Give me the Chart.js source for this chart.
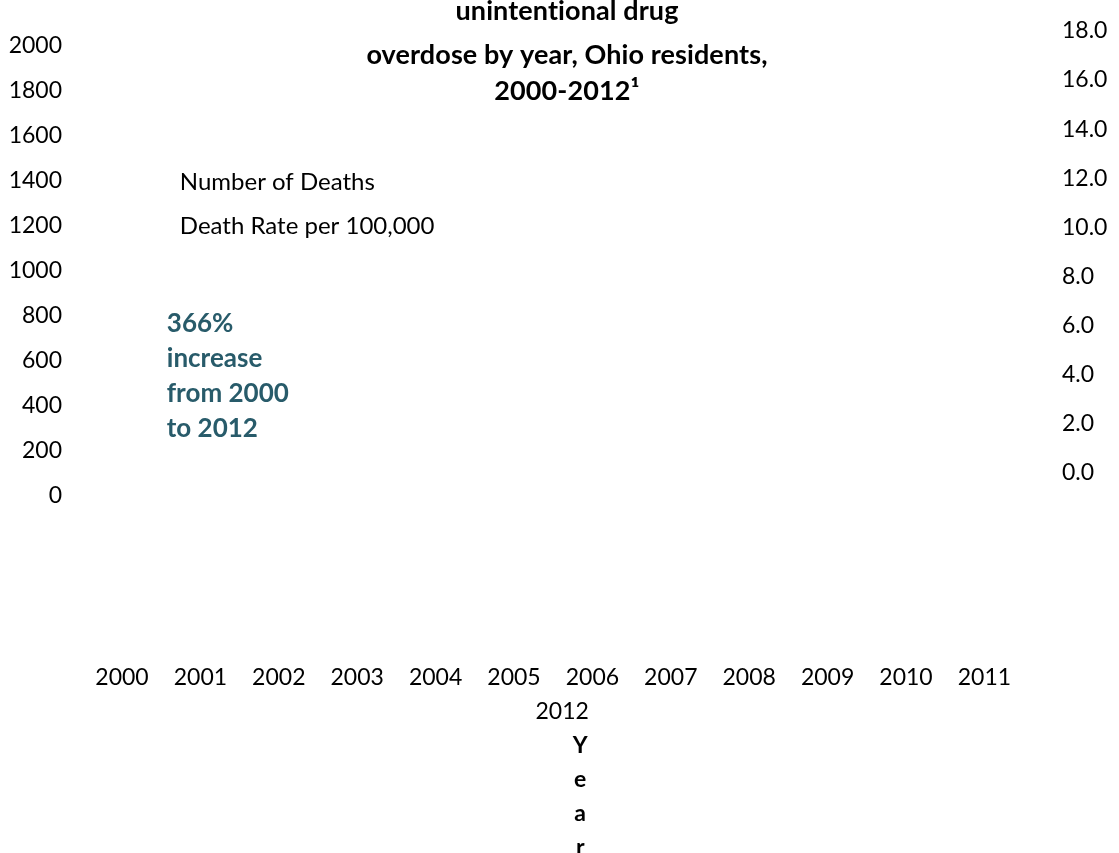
<!DOCTYPE html>
<html>
<head>
<meta charset="utf-8">
<script src="https://cdn.jsdelivr.net/npm/chart.js@4.4.1/dist/chart.umd.min.js"></script>
<style>
  html, body { margin: 0; padding: 0; background: #ffffff; overflow: hidden; }
  #wrap { position: relative; width: 1119px; height: 853px; }
</style>
</head>
<body>
<div id="wrap"><canvas id="c" width="1119" height="853"></canvas></div>
<script>
// ---- data (no bars or line are visible in it) ----
const years = ['2000', '2001', '2002', '2003', '2004', '2005', '2006', '2007', '2008', '2009', '2010', '2011', '2012'];
const numberOfDeaths = [null, null, null, null, null, null, null, null, null, null, null, null, null];
const deathRatePer100k = [null, null, null, null, null, null, null, null, null, null, null, null, null];
const seriesLabels = ['Number of Deaths', 'Death Rate per 100,000'];
const leftTickValues = [0, 200, 400, 600, 800, 1000, 1200, 1400, 1600, 1800, 2000];
const rightTickValues = [0, 2, 4, 6, 8, 10, 12, 14, 16, 18];
const titleLines = ['unintentional drug', 'overdose by year, Ohio residents,', '2000-2012\u00B9'];
const annotationLines = ['366%', 'increase', 'from 2000', 'to 2012'];
const axisTitleLetters = ['Y', 'e', 'a', 'r'];

const FAMILY = 'Lato, Calibri, Carlito, "Open Sans", sans-serif';
const INK = '#000000';
const TEAL = '#285b6a';

const overlayText = {
  id: 'overlayText',
  afterDraw(chart) {
    const ctx = chart.ctx;
    const ca = chart.chartArea;
    ctx.save();
    ctx.textBaseline = 'middle';
    // title
    ctx.fillStyle = INK;
    ctx.textAlign = 'center';
    ctx.font = 'bold 27px ' + FAMILY;
    if ('letterSpacing' in ctx) ctx.letterSpacing = '0.1px';
    const titleY = [11, 55, 91];
    titleLines.forEach((t, i) => ctx.fillText(t, 567, titleY[i]));
    if ('letterSpacing' in ctx) ctx.letterSpacing = '0px';
    // legend labels (no swatches visible in the reference)
    ctx.textAlign = 'left';
    ctx.font = '24px ' + FAMILY;
    chart.data.datasets.forEach((ds, i) => {
      ctx.fillText(ds.label, ca.left + 97, ca.top + 154 + i * 44);
    });
    // annotation
    ctx.fillStyle = TEAL;
    ctx.font = 'bold 26px ' + FAMILY;
    annotationLines.forEach((t, i) => ctx.fillText(t, ca.left + 84, ca.top + 296 + i * 35));
    ctx.restore();
  }
};

function noPad(s) {
  s.paddingLeft = 0; s.paddingRight = 0; s.paddingTop = 0; s.paddingBottom = 0;
}

function build() {
  const tickFont = { family: FAMILY, size: 23 };
  new Chart(document.getElementById('c'), {
    type: 'bar',
    data: {
      labels: years,
      datasets: [
        {
          type: 'bar',
          label: seriesLabels[0],
          data: numberOfDeaths,
          yAxisID: 'y',
          xAxisID: 'x',
          backgroundColor: 'rgba(0,0,0,0)'
        },
        {
          type: 'line',
          label: seriesLabels[1],
          data: deathRatePer100k,
          yAxisID: 'y1',
          xAxisID: 'x',
          borderColor: 'rgba(0,0,0,0)',
          pointRadius: 0
        }
      ]
    },
    options: {
      responsive: false,
      animation: false,
      events: [],
      layout: { padding: { left: 9, right: 0, top: 28, bottom: -12 } },
      plugins: {
        legend: { display: false },
        title: { display: false },
        tooltip: { enabled: false }
      },
      scales: {
        x: {
          type: 'category',
          position: 'bottom',
          weight: 0,
          offset: true,
          max: years[years.length - 2],
          grid: { display: false, drawTicks: false },
          border: { display: false },
          ticks: { padding: 168, font: tickFont, color: INK, autoSkip: false, maxRotation: 0 },
          afterFit(s) { s.height = 195.6; noPad(s); }
        },
        x2: {
          type: 'category',
          position: 'bottom',
          weight: 1,
          offset: true,
          labels: [years[years.length - 1]],
          grid: { display: false, drawTicks: false },
          border: { display: false },
          ticks: { padding: 6.6, labelOffset: 9, font: tickFont, color: INK, maxRotation: 0 },
          afterFit(s) { s.height = 34.2; noPad(s); }
        },
        x3: {
          type: 'category',
          position: 'bottom',
          weight: 2,
          offset: true,
          labels: [axisTitleLetters],
          grid: { display: false, drawTicks: false },
          border: { display: false },
          ticks: { padding: 3.2, labelOffset: 27, font: { family: FAMILY, size: 23, weight: 'bold', lineHeight: 34 / 23 }, color: INK, maxRotation: 0 },
          afterFit(s) { s.height = 139.2; noPad(s); }
        },
        y: {
          type: 'linear',
          position: 'left',
          min: 0,
          max: 2080,
          grid: { display: false, drawTicks: false },
          border: { display: false },
          afterBuildTicks(s) { s.ticks = leftTickValues.map(v => ({ value: v })); },
          ticks: { padding: 20.8, font: tickFont, color: INK, callback: v => String(v) },
          afterFit(s) { s.width = 73.8; noPad(s); }
        },
        y1: {
          type: 'linear',
          position: 'right',
          min: -0.94,
          max: 18.12,
          grid: { display: false, drawTicks: false },
          border: { display: false },
          afterBuildTicks(s) { s.ticks = rightTickValues.map(v => ({ value: v })); },
          ticks: { padding: 38.4, font: tickFont, color: INK, callback: v => Number(v).toFixed(1) },
          afterFit(s) { s.width = 95.4; noPad(s); }
        }
      }
    },
    plugins: [overlayText]
  });
}

const fontLoads = [
  document.fonts.load('23px Lato'),
  document.fonts.load('bold 23px Lato')
];
Promise.all(fontLoads).then(build, build);
</script>
</body>
</html>
